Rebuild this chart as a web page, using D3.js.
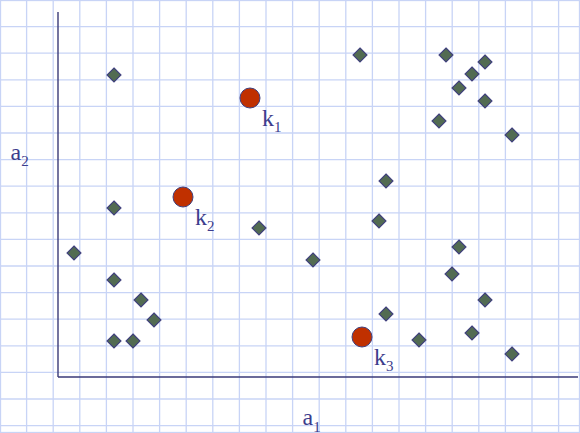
<!DOCTYPE html>
<html>
<head>
<meta charset="utf-8">
<script src="https://cdn.jsdelivr.net/npm/d3@7"></script>
<style>
  html, body { margin: 0; padding: 0; background: #ffffff; }
  svg { display: block; }
</style>
</head>
<body>
<svg id="chart" width="580" height="433"></svg>
<script>
// Data points (a1, a2)
const pointsA1 = [56, 302, 388, 427, 414, 401, 427, 381, 454, 328, 56, 201, 321, 16, 255, 401, 394, 56, 83, 427, 96, 328, 414, 56, 75, 361, 454];
const pointsA2 = [302, 322, 322, 315, 303, 289, 276, 256, 242, 196, 169, 149, 156, 124, 117, 130, 103, 97, 77, 77, 57, 63, 44, 36, 36, 37, 23];

// Cluster centroids
const centroidNames = ["k", "k", "k"];
const centroidIndex = ["1", "2", "3"];
const centroidA1 = [192, 125, 304];
const centroidA2 = [279, 180, 40];

const axisNames = ["a", "a"];
const axisIndex = ["1", "2"];

const W = 580, H = 433;
const svg = d3.select("#chart");

const x = d3.scaleLinear().domain([0, 520]).range([58, 578]);
const y = d3.scaleLinear().domain([0, 365]).range([377, 12]);

// grid background
const gridStep = 26.6;
const gx = d3.range(gridStep, W, gridStep);
const gy = d3.range(gridStep, H, gridStep);
svg.append("g").selectAll("line").data(gx).join("line")
  .attr("x1", d => d).attr("x2", d => d).attr("y1", 0).attr("y2", H)
  .attr("stroke", "#c8d4f6").attr("stroke-width", 1.3);
svg.append("g").selectAll("line").data(gy).join("line")
  .attr("y1", d => d).attr("y2", d => d).attr("x1", 0).attr("x2", W)
  .attr("stroke", "#c8d4f6").attr("stroke-width", 1.3);
svg.append("rect").attr("x", 0.5).attr("y", 0.5).attr("width", W - 1).attr("height", H - 1)
  .attr("fill", "none").attr("stroke", "#c8d4f6").attr("stroke-width", 1.3);

const axisColor = "#3a3a78";
// axes
svg.append("line")
  .attr("x1", x(0)).attr("x2", x(0)).attr("y1", y(365)).attr("y2", y(0))
  .attr("stroke", axisColor).attr("stroke-width", 1.4);
svg.append("line")
  .attr("x1", x(0)).attr("x2", x(520)).attr("y1", y(0)).attr("y2", y(0))
  .attr("stroke", axisColor).attr("stroke-width", 1.4);

// diamonds
const pts = pointsA1.map((v, i) => ({a1: v, a2: pointsA2[i]}));
svg.append("g").selectAll("path").data(pts).join("path")
  .attr("transform", d => `translate(${x(d.a1)},${y(d.a2)})`)
  .attr("d", "M0,-7L7,0L0,7L-7,0Z")
  .attr("fill", "#526b52").attr("stroke", "#40407e").attr("stroke-width", 1.1);

// centroids
const cents = centroidA1.map((v, i) => ({a1: v, a2: centroidA2[i], n: centroidNames[i], s: centroidIndex[i]}));
svg.append("g").selectAll("circle").data(cents).join("circle")
  .attr("cx", d => x(d.a1)).attr("cy", d => y(d.a2)).attr("r", 10)
  .attr("fill", "#c03000").attr("stroke", "#40407e").attr("stroke-width", 1);

const textColor = "#3c3c8c";
const font = "'Liberation Serif', 'Times New Roman', serif";

function subLabel(sel, main, sub) {
  sel.attr("font-family", font).attr("fill", textColor);
  sel.append("tspan").attr("font-size", 24).text(main);
  sel.append("tspan").attr("font-size", 15).attr("dy", 6.5).text(sub);
}

svg.append("g").selectAll("text").data(cents).join("text")
  .attr("x", d => x(d.a1) + 12).attr("y", d => y(d.a2) + 27.5)
  .each(function(d) { subLabel(d3.select(this), d.n, d.s); });

// axis labels
subLabel(svg.append("text").attr("x", 302.5).attr("y", 425), axisNames[0], axisIndex[0]);
subLabel(svg.append("text").attr("x", 10.5).attr("y", 159.5), axisNames[1], axisIndex[1]);
</script>
</body>
</html>
